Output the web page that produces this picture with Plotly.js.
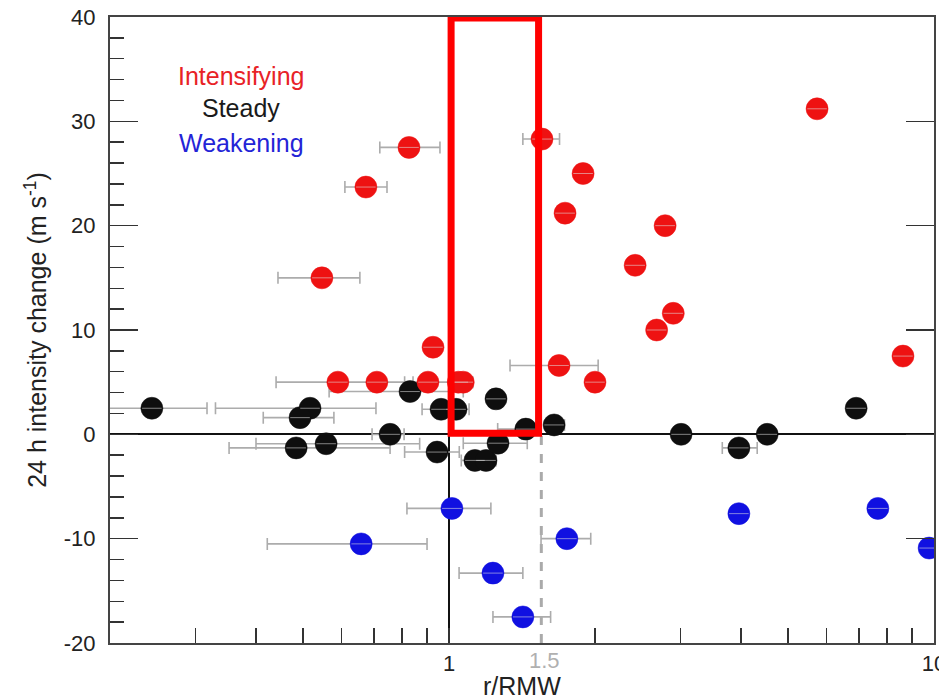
<!DOCTYPE html>
<html>
<head>
<meta charset="utf-8">
<script src="https://cdn.plot.ly/plotly-3.0.1.min.js"></script>
<style>html,body{margin:0;padding:0;background:#fff;}#chart{width:939px;height:697px;}</style>
</head>
<body>
<div id="chart"></div>
<script>
// ---- Data ----
// Intensifying (red)
const intX  = [5.74, 1.555, 0.827, 1.89, 0.674, 1.735, 2.79, 2.42, 0.547, 2.90, 2.68, 0.927, 1.686, 8.63, 2.0, 0.59, 0.71, 0.905, 1.045, 1.07];
const intY  = [31.2, 28.3, 27.5, 25.0, 23.7, 21.2, 20.0, 16.2, 15.0, 11.6, 10.0, 8.35, 6.6, 7.5, 5.0, 5.0, 5.0, 5.0, 5.0, 5.0];
const intLo = [null, 1.42, 0.72, null, 0.61, null, null, null, 0.444, null, null, null, 1.336, null, null, 0.44, null, 0.843, null, null];
const intHi = [null, 1.69, 0.958, null, 0.745, null, null, null, 0.655, null, null, null, 2.03, null, null, 0.81, null, 1.12, null, null];

// Steady (black)
const stdX  = [0.244, 0.517, 0.493, 0.831, 0.963, 1.034, 1.25, 0.756, 0.484, 0.558, 0.945, 1.131, 1.192, 1.262, 1.44, 1.647, 3.01, 3.96, 4.53, 6.91];
const stdY  = [2.5, 2.5, 1.6, 4.1, 2.4, 2.4, 3.4, 0.0, -1.3, -0.9, -1.7, -2.5, -2.5, -0.85, 0.5, 0.9, 0.0, -1.3, 0.0, 2.5];
const stdLo = [0.19, 0.33, 0.414, 0.566, 0.88, null, null, 0.694, 0.352, 0.40, 0.81, 1.06, null, 1.07, 1.26, 1.58, null, 3.66, null, null];
const stdHi = [0.317, 0.707, 0.579, 1.07, 1.10, null, null, 0.808, 0.756, 0.87, 1.05, 1.25, null, 1.45, 1.50, 1.73, null, 4.32, null, null];

// Weakening (blue)
const wkX  = [0.659, 1.014, 1.75, 1.232, 1.42, 3.96, 7.66, 9.77];
const wkY  = [-10.5, -7.1, -10.0, -13.3, -17.5, -7.6, -7.1, -10.9];
const wkLo = [0.422, 0.819, 1.548, 1.049, 1.232, null, null, null];
const wkHi = [0.901, 1.22, 1.96, 1.42, 1.62, null, null, null];

// Legend labels and axis labels
const legendLabels = ['Intensifying', 'Steady', 'Weakening'];
const xTitle = 'r/RMW';
const yTitle = '24 h intensity change (m s<sup>-1</sup>)';
const xTickVals = [1, 10];
const xTickText = ['1', '10'];
const xMinorVals = [0.3, 0.4, 0.5, 0.6, 0.7, 0.8, 0.9, 2, 3, 4, 5, 6, 7, 8, 9];
const yTickVals = [-20, -10, 0, 10, 20, 30, 40];
const yTickText = ['-20', '-10', '0', '10', '20', '30', '40'];
const markLineX = 1.5;   // labelled "1.5"
const dashX = 1.55;      // dashed line position as drawn
const boxX = [1.01, 1.53];
const boxY = [0.1, 39.9];

// ---- Styles ----
const RED = 'rgb(238,18,18)', BLACK = 'rgb(14,14,14)', BLUE = 'rgb(16,16,225)';
const ERR = 'rgb(172,172,172)';

function errTrace(xs, ys, lo, hi) {
  const ex = [], ey = [], p = [], m = [];
  xs.forEach((x, i) => {
    if (lo[i] != null && hi[i] != null) {
      ex.push(x); ey.push(ys[i]); p.push(hi[i] - x); m.push(x - lo[i]);
    }
  });
  return {
    x: ex, y: ey, type: 'scatter', mode: 'markers',
    marker: {size: 1, opacity: 0}, hoverinfo: 'skip',
    error_x: {type: 'data', symmetric: false, array: p, arrayminus: m,
              color: ERR, thickness: 1.6, width: 6}
  };
}
function markTrace(xs, ys, col) {
  return {
    x: xs, y: ys, type: 'scatter', mode: 'markers',
    marker: {size: 22, color: col, line: {color: col, width: 0.5}}
  };
}
function lineTrace(xs, ys) {
  return {
    x: xs, y: ys, type: 'scatter', mode: 'markers', hoverinfo: 'skip',
    marker: {symbol: 'line-ew', size: 14, line: {color: 'rgba(225,225,225,0.55)', width: 1}}
  };
}

const data = [
  errTrace(stdX, stdY, stdLo, stdHi),
  errTrace(intX, intY, intLo, intHi),
  errTrace(wkX, wkY, wkLo, wkHi),
  markTrace(stdX, stdY, BLACK),
  markTrace(intX, intY, RED),
  markTrace(wkX, wkY, BLUE),
  lineTrace(stdX.concat(intX, wkX), stdY.concat(intY, wkY)),
  {x: [1], y: [0], yaxis: 'y2', type: 'scatter', mode: 'markers', marker: {opacity: 0}, hoverinfo: 'skip'}
];

const FONT = 'Liberation Sans, Arial, Helvetica, sans-serif';
const layout = {
  width: 939, height: 697,
  margin: {l: 110, r: 5, t: 17, b: 54},
  paper_bgcolor: 'white', plot_bgcolor: 'white',
  showlegend: false,
  font: {family: FONT, color: '#222', size: 22},
  xaxis: {
    type: 'log', range: [Math.log10(0.2), 1],
    tickmode: 'array', tickvals: xTickVals, ticktext: xTickText,
    ticks: 'inside', ticklen: 15, tickwidth: 1.5, tickcolor: '#333',
    showline: true, linecolor: '#444', linewidth: 2, mirror: true,
    showgrid: false, zeroline: false, ticklabeloverflow: 'allow',
    tickfont: {size: 22, color: '#222'},
    minor: {tickmode: 'array', tickvals: xMinorVals, ticks: 'inside', ticklen: 15,
            tickwidth: 1.5, tickcolor: '#333', showgrid: false}
  },
  yaxis: {
    range: [-20, 40], tickmode: 'array', tickvals: yTickVals, ticktext: yTickText,
    ticks: 'inside', ticklen: 28, tickwidth: 1.5, tickcolor: '#333',
    showline: true, linecolor: '#444', linewidth: 2, mirror: true,
    showgrid: false,
    zeroline: true, zerolinecolor: '#111', zerolinewidth: 2,
    tickfont: {size: 22, color: '#222'}, ticklabelstandoff: 8,
    title: {text: yTitle, font: {size: 25, color: '#222'}, standoff: 10},
    minor: {dtick: 2, tick0: 0, ticks: 'inside', ticklen: 14, tickwidth: 1.5, tickcolor: '#333', showgrid: false}
  },
  yaxis2: {
    overlaying: 'y', side: 'right', range: [-20, 40], tickmode: 'array', tickvals: yTickVals,
    ticks: 'inside', ticklen: 28, tickwidth: 1.5, tickcolor: '#333',
    showticklabels: false, showgrid: false, zeroline: false, showline: false
  },
  shapes: [
    {type: 'line', xref: 'x', yref: 'y', x0: 1, x1: 1, y0: -20, y1: 0,
     line: {color: '#111', width: 2}, layer: 'below'},
    {type: 'line', xref: 'x', yref: 'y', x0: dashX, x1: dashX, y0: -20, y1: 0,
     line: {color: '#aaa', width: 3, dash: 'dash'}, layer: 'below'},
    {type: 'rect', xref: 'x', yref: 'y', x0: boxX[0], x1: boxX[1], y0: boxY[0], y1: boxY[1],
     line: {color: 'rgb(255,0,0)', width: 7}, layer: 'above'}
  ],
  annotations: [
    {xref: 'paper', yref: 'paper', x: 0.159, y: 0.906, xanchor: 'center', yanchor: 'middle',
     text: legendLabels[0], showarrow: false, font: {size: 25, color: 'rgb(232,34,38)'}},
    {xref: 'paper', yref: 'paper', x: 0.159, y: 0.855, xanchor: 'center', yanchor: 'middle',
     text: legendLabels[1], showarrow: false, font: {size: 25, color: '#1a1a1a'}},
    {xref: 'paper', yref: 'paper', x: 0.159, y: 0.799, xanchor: 'center', yanchor: 'middle',
     text: legendLabels[2], showarrow: false, font: {size: 25, color: 'rgb(36,36,215)'}},
    {xref: 'x', yref: 'paper', x: Math.log10(markLineX * 1.05), y: 0, yanchor: 'top', yshift: -3,
     text: '1.5', showarrow: false, font: {size: 22, color: '#b0b0b0'}},
    {xref: 'paper', yref: 'paper', x: 0.5, y: 0, xanchor: 'center', yanchor: 'top', yshift: -27,
     text: xTitle, showarrow: false, font: {size: 25, color: '#222'}}
  ]
};

Plotly.newPlot('chart', data, layout, {displayModeBar: false, staticPlot: true});
</script>
</body>
</html>
